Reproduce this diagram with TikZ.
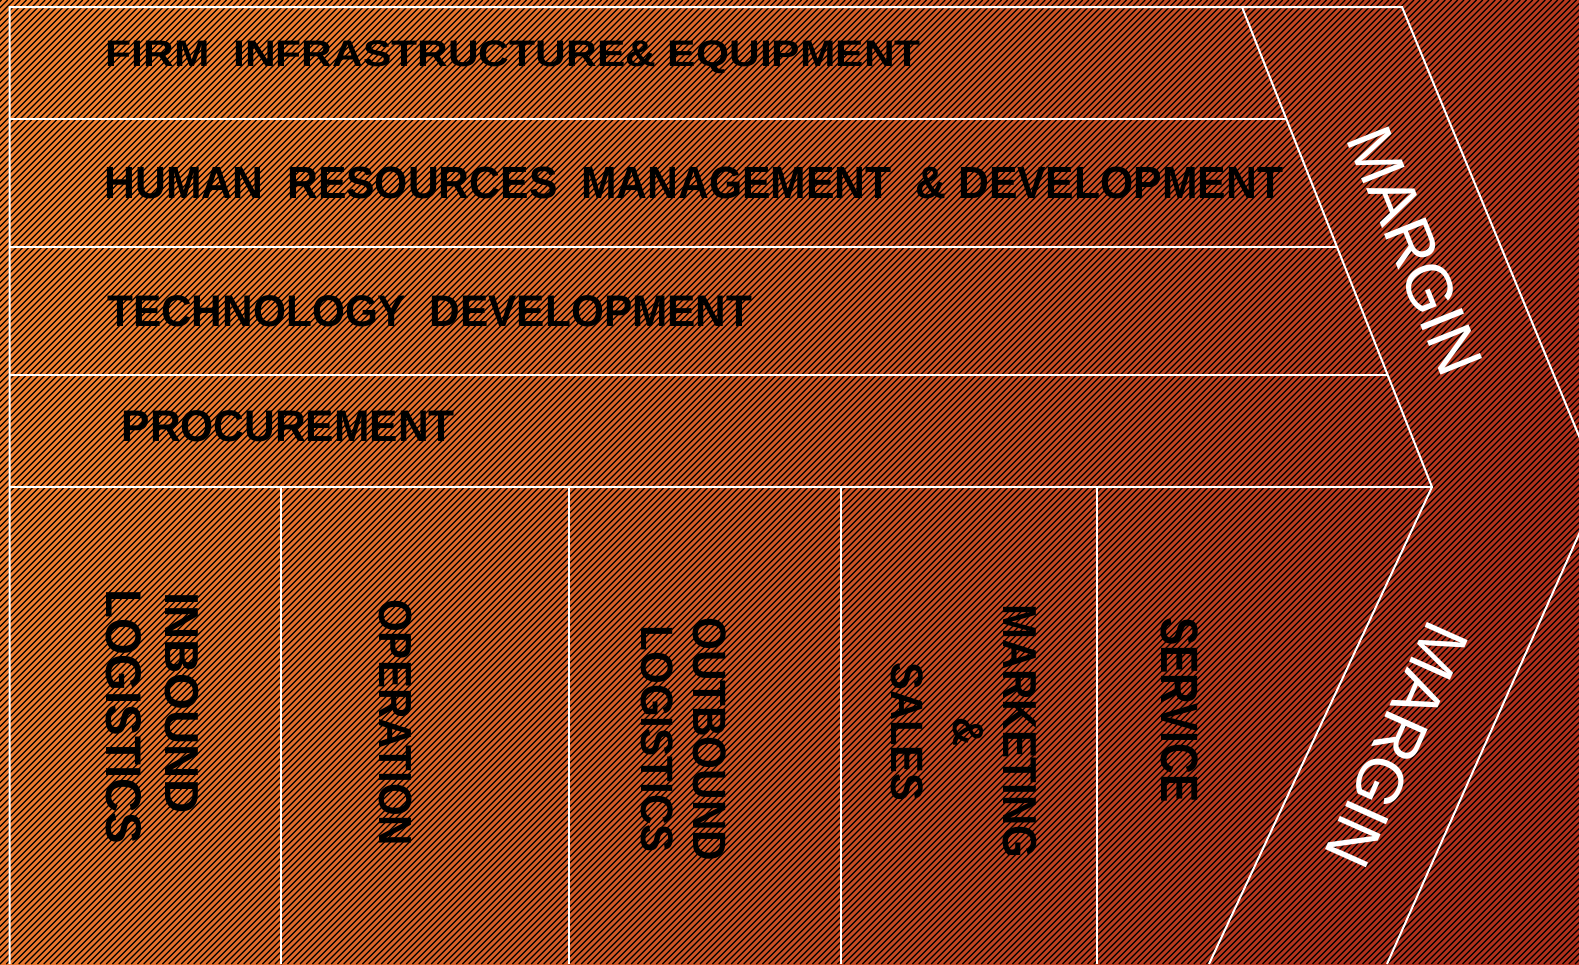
\documentclass[tikz,border=0pt]{standalone}
\usepackage{fontspec}
\setmainfont{Liberation Sans}
\usepackage{graphicx}
\definecolor{bgA}{RGB}{242,128,48}
\definecolor{bgB}{RGB}{176,48,28}
\begin{document}
\begin{tikzpicture}[x=1pt,y=-1pt,
  wline/.style={white, line width=2pt},
  stripe/.style={black, line width=1.35pt},
  hlab/.style={anchor=base west, inner sep=0pt, font=\bfseries},
  vlab/.style={anchor=base west, inner sep=0pt, rotate=-90, font=\bfseries},
  mlab/.style={white, inner sep=0pt, font=\fontsize{65}{78}\selectfont}]
\useasboundingbox (0,0) rectangle (1579,964);
\begin{scope}
\clip (0,0) rectangle (1579,964);
\shade[top color=bgA, bottom color=bgB, shading angle=68] (0,0) rectangle (1579,964);
\foreach \i in {-154,...,252} \draw[stripe] (\i*6.25,964) -- ++(964,-964);
% chevron geometry
\coordinate (tl) at (9.5,7);
\coordinate (bl) at (9.5,964);
\coordinate (it) at (1242,7);
\coordinate (tip) at (1432,487);
\coordinate (ib) at (1209,964);
\coordinate (ot) at (1402,7);
\coordinate (otip) at (1600,487);
\coordinate (ob) at (1387,964);
\draw[wline] (bl) -- (tl) -- (ot) -- (otip) -- (ob);
\draw[wline] (it) -- (tip) -- (ib);
\draw[wline] (9.5,119) -- (1286.3,119);
\draw[wline] (9.5,247) -- (1337,247);
\draw[wline] (9.5,375) -- (1387.7,375);
\draw[wline] (9.5,487) -- (tip);
\foreach \x in {281,569,841,1097} \draw[wline] (\x,487) -- (\x,964);
\end{scope}
% support activities
\node[hlab] (firm) at (105.5,66.7) {\resizebox{815pt}{25.8pt}{FIRM\ \ INFRASTRUCTURE\&\ EQUIPMENT}};
\node[hlab] (hr) at (104.5,198.3) {\resizebox{1178pt}{31.5pt}{HUMAN\ \ RESOURCES\ \ MANAGEMENT\ \ \&\ DEVELOPMENT}};
\node[hlab] (tech) at (107,326.7) {\resizebox{645pt}{30.9pt}{TECHNOLOGY\ \ DEVELOPMENT}};
\node[hlab] (proc) at (121.5,441.7) {\resizebox{333pt}{30.9pt}{PROCUREMENT}};
% primary activities
\node[vlab] (inb1) at (165,592) {\resizebox{221pt}{33.3pt}{INBOUND}};
\node[vlab] (inb2) at (106.7,589) {\resizebox{255pt}{35pt}{LOGISTICS}};
\node[vlab] (oper) at (379.3,599) {\resizebox{247pt}{32.4pt}{OPERATION}};
\node[vlab] (out1) at (693.3,617) {\resizebox{244pt}{32.7pt}{OUTBOUND}};
\node[vlab] (out2) at (641.7,625.5) {\resizebox{227pt}{31.7pt}{LOGISTICS}};
\node[vlab] (mkt1) at (1003.3,604) {\resizebox{254pt}{33.3pt}{MARKETING}};
\node[vlab] (mkt2) at (953.3,717) {\resizebox{29pt}{30pt}{\&}};
\node[vlab] (mkt3) at (891.7,662) {\resizebox{139pt}{31.7pt}{SALES}};
\node[vlab] (serv) at (1161.7,617) {\resizebox{185.5pt}{36.7pt}{SERVICE}};
% margin
\node[mlab, rotate=-68.2] (m1) at (1415,251) {MARGIN};
\node[mlab, rotate=-114.1] (m2) at (1397,745) {MARGIN};
\end{tikzpicture}
\end{document}
